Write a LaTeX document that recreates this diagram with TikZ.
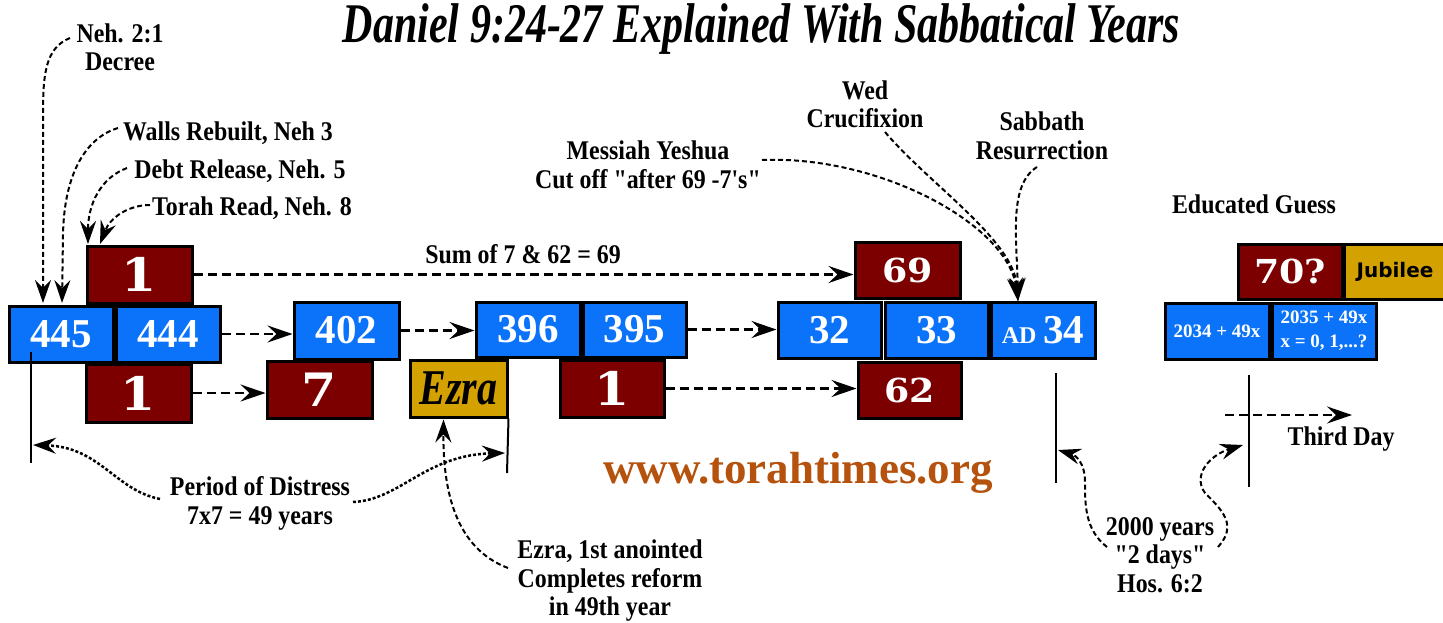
\documentclass[tikz,border=0pt]{standalone}
\usepackage{fontspec}
\setmainfont{Liberation Serif}
\newfontfamily\lblf{Liberation Serif}[FakeStretch=0.885]
\newfontfamily\titlef{Liberation Serif}[FakeStretch=0.75]
\newfontfamily\ezf{Liberation Serif}[FakeStretch=0.8]
\newfontfamily\numf{DejaVu Serif}[FakeStretch=1.1]
\newfontfamily\jubf{DejaVu Sans}
\usetikzlibrary{arrows.meta,calc}
\definecolor{bblue}{RGB}{10,115,250}
\definecolor{mroon}{RGB}{125,0,0}
\definecolor{gold}{RGB}{212,162,0}
\definecolor{urlc}{RGB}{181,83,14}
\tikzset{
  yrbox/.style={draw=black, line width=3pt, fill=bblue, text=white, minimum width=104pt, minimum height=56pt, inner sep=0pt,
    font=\bfseries\fontsize{41}{41}\selectfont},
  cntbox/.style={draw=black, line width=3pt, fill=mroon, text=white, minimum width=104pt, minimum height=56pt, inner sep=0pt},
  goldbox/.style={draw=black, line width=3pt, fill=gold, text=black, minimum width=104pt, minimum height=56pt, inner sep=0pt},
  bignum/.style={font=\numf\bfseries\fontsize{46}{46}\selectfont},
  midnum/.style={font=\numf\bfseries\fontsize{33}{33}\selectfont},
  lbl/.style={font=\lblf\bfseries\fontsize{27}{28.5}\selectfont, align=center, inner sep=0pt},
  harrow/.style={line width=2.5pt, dash pattern=on 9pt off 5pt, -{Stealth[length=25pt,width=17pt,inset=9pt]}},
  carrow/.style={line width=2pt, dash pattern=on 5pt off 3pt, -{Stealth[length=23pt,width=16pt,inset=8pt]}},
  parrow/.style={line width=2.5pt, dash pattern=on 3pt off 2pt, -{Stealth[length=23pt,width=16pt,inset=8pt]}},
  vline/.style={line width=2pt}
}
\begin{document}
\begin{tikzpicture}[x=1pt,y=-1pt]
\useasboundingbox[fill=white] (0,0) rectangle (1443,622);

% title
\node[anchor=base] (title) at (761.5,42) {\titlef\bfseries\itshape\fontsize{56}{56}\selectfont Daniel 9:24-27 Explained With Sabbatical Years};

% boxes
\node[cntbox, bignum, minimum width=105pt, minimum height=57pt] (top1) at (139.5,274.5) {1};
\node[yrbox] (b445) at (61,334) {445};
\node[yrbox] (b444) at (168,334) {444};
\node[yrbox, minimum width=105pt, minimum height=57pt] (b402) at (346.5,330.5) {402};
\node[cntbox, bignum, minimum width=105pt, minimum height=58pt] (bot1) at (138.5,393) {1};
\node[cntbox, bignum, minimum width=105pt, minimum height=57pt] (b7) at (319.5,389.5) {7};
\node[goldbox, minimum width=97pt, minimum height=57pt, font=\ezf\bfseries\itshape\fontsize{50}{50}\selectfont] (ezra) at (458.5,388.5) {Ezra};
\node[yrbox, minimum height=55pt] (b396) at (528,329.5) {396};
\node[yrbox, minimum width=103pt, minimum height=55pt] (b395) at (634.5,329.5) {395};
\node[cntbox, bignum, minimum height=57pt] (mid1) at (612,388.5) {1};
\node[cntbox, midnum, minimum width=105pt] (b69) at (907.5,270) {69};
\node[yrbox, minimum width=103pt] (b32) at (829.5,330) {32};
\node[yrbox, minimum width=103pt] (b33) at (936.5,330) {33};
\node[yrbox] (b34) at (1043,330) {{\fontsize{24}{24}\selectfont AD}\,34};
\node[cntbox, midnum, minimum width=103pt] (b62) at (909.5,390) {62};
\node[cntbox, midnum, minimum height=55pt] (b70) at (1290,271.5) {70?};
\node[goldbox, minimum width=102pt, minimum height=55pt, font=\jubf\bfseries\fontsize{20}{20}\selectfont] (jub) at (1395,271.5) {Jubilee};
\node[yrbox, font=\bfseries\fontsize{19}{19}\selectfont] (b2034) at (1217,331) {2034 + 49x};
\node[yrbox, align=center, font=\bfseries\fontsize{19}{24}\selectfont] (b2035) at (1324,331) {2035 + 49x\\x = 0, 1,...?};

% horizontal arrows
\draw[harrow] (top1.east) -- (top1.east -| b69.west);
\draw[harrow] (b444.east) -- (b444.east -| b402.west);
\draw[harrow] (b402.east) -- (b402.east -| b396.west);
\draw[harrow] (b395.east) -- (b395.east -| b32.west);
\draw[harrow] (bot1.east) -- (bot1.east -| b7.west);
\draw[harrow] (mid1.east) -- (mid1.east -| b62.west);
\node[lbl, anchor=base] (sum) at (523,263) {Sum of 7 \& 62 = 69};

% vertical marker lines
\coordinate (v1a) at (31,352); \coordinate (v1b) at (31,463);
\coordinate (v2b) at (507,473);
\coordinate (v3a) at (1056,373); \coordinate (v3b) at (1056,483);
\coordinate (v4a) at (1249,375); \coordinate (v4b) at (1249,487);
\draw[vline] (v1a) -- (v1b);
\draw[vline] (ezra.south east) -- (v2b);
\draw[vline] (v3a) -- (v3b);
\draw[vline] (v4a) -- (v4b);

% top-left labels
\node[lbl] (neh) at (120,47.5) {Neh. 2:1\\Decree};
\node[lbl, anchor=base] (walls) at (228,140) {Walls Rebuilt, Neh 3};
\node[lbl, anchor=base] (debt) at (240,178) {Debt Release, Neh. 5};
\node[lbl, anchor=base] (torah) at (252,215) {Torah Read, Neh. 8};
\coordinate (nehS) at (70,38);   \coordinate (tipNeh) at (43,303);
\coordinate (wallS) at (118,128); \coordinate (tipWall) at (62,303);
\coordinate (debtS) at (127,168); \coordinate (tipDebt) at (88,244);
\coordinate (torS) at (150,205);  \coordinate (tipTor) at (100,244);
\draw[carrow] (nehS) .. controls (45,48) and (43,75) .. (43,115) -- (tipNeh);
\draw[carrow] (wallS) .. controls (85,138) and (64,175) .. (63,235) -- (tipWall);
\draw[carrow] (debtS) .. controls (100,178) and (88,205) .. (tipDebt);
\draw[carrow] (torS) .. controls (128,205) and (110,218) .. (tipTor);

% messiah / crucifixion / resurrection
\node[lbl] (mess) at (648,165) {Messiah Yeshua\\Cut off "after 69 -7's"};
\node[lbl] (wed) at (865,104.5) {Wed\\Crucifixion};
\node[lbl] (sabb) at (1042,136) {Sabbath\\Resurrection};
\coordinate (messS) at (762,160);
\coordinate (wedS) at (885,132);
\coordinate (sabS) at (1037,167);
\coordinate (tip34) at (1018,301);
\draw[carrow] (messS) .. controls (880,155) and (1008,225) .. (tip34);
\draw[carrow] (wedS) .. controls (930,185) and (1014,240) .. (tip34);
\draw[carrow] (sabS) .. controls (1008,185) and (1017,240) .. (tip34);

% educated guess
\node[lbl, anchor=base] (edu) at (1254,213) {Educated Guess};

% url
\node[anchor=base, text=urlc, font=\bfseries\fontsize{45}{45}\selectfont] (url) at (798,483) {www.torahtimes.org};

% period of distress
\node[lbl] (period) at (260,503.5) {Period of Distress\\7x7 = 49 years};
\coordinate (pLS) at (160,499); \coordinate (tipPL) at (33,445);
\coordinate (pRS) at (353,502); \coordinate (tipPR) at (505,453);
\draw[parrow] (pLS) .. controls (115,490) and (100,447) .. (tipPL);
\draw[parrow] (pRS) .. controls (400,500) and (425,455) .. (tipPR);

% ezra anointed
\node[lbl] (ezt) at (610,581) {Ezra, 1st anointed\\Completes reform\\in 49th year};
\coordinate (ezS) at (508,568);
\coordinate (tipEz) at ($(ezra.south)+(-15,1)$);
\draw[carrow] (ezS) .. controls (455,548) and (443,490) .. (tipEz);

% 2000 years
\node[lbl] (twok) at (1160,555) {2000 years\\"2 days"\\Hos. 6:2};
\coordinate (tkL) at (1107,547); \coordinate (tipL2) at (1058,450);
\coordinate (tkR) at (1218,547); \coordinate (tipR2) at (1243,445);
\draw[carrow] (tkL) .. controls (1085,530) and (1085,505) .. (1085,482) .. controls (1085,462) and (1075,455) .. (tipL2);
\draw[carrow] (tkR) .. controls (1238,525) and (1222,510) .. (1205,493) .. controls (1192,475) and (1210,455) .. (tipR2);

% third day
\coordinate (tdS) at (1225,415); \coordinate (tdE) at (1352,415);
\draw[harrow] (tdS) -- (tdE);
\node[lbl, anchor=base] (third) at (1341,445) {Third Day};
\end{tikzpicture}
\end{document}
